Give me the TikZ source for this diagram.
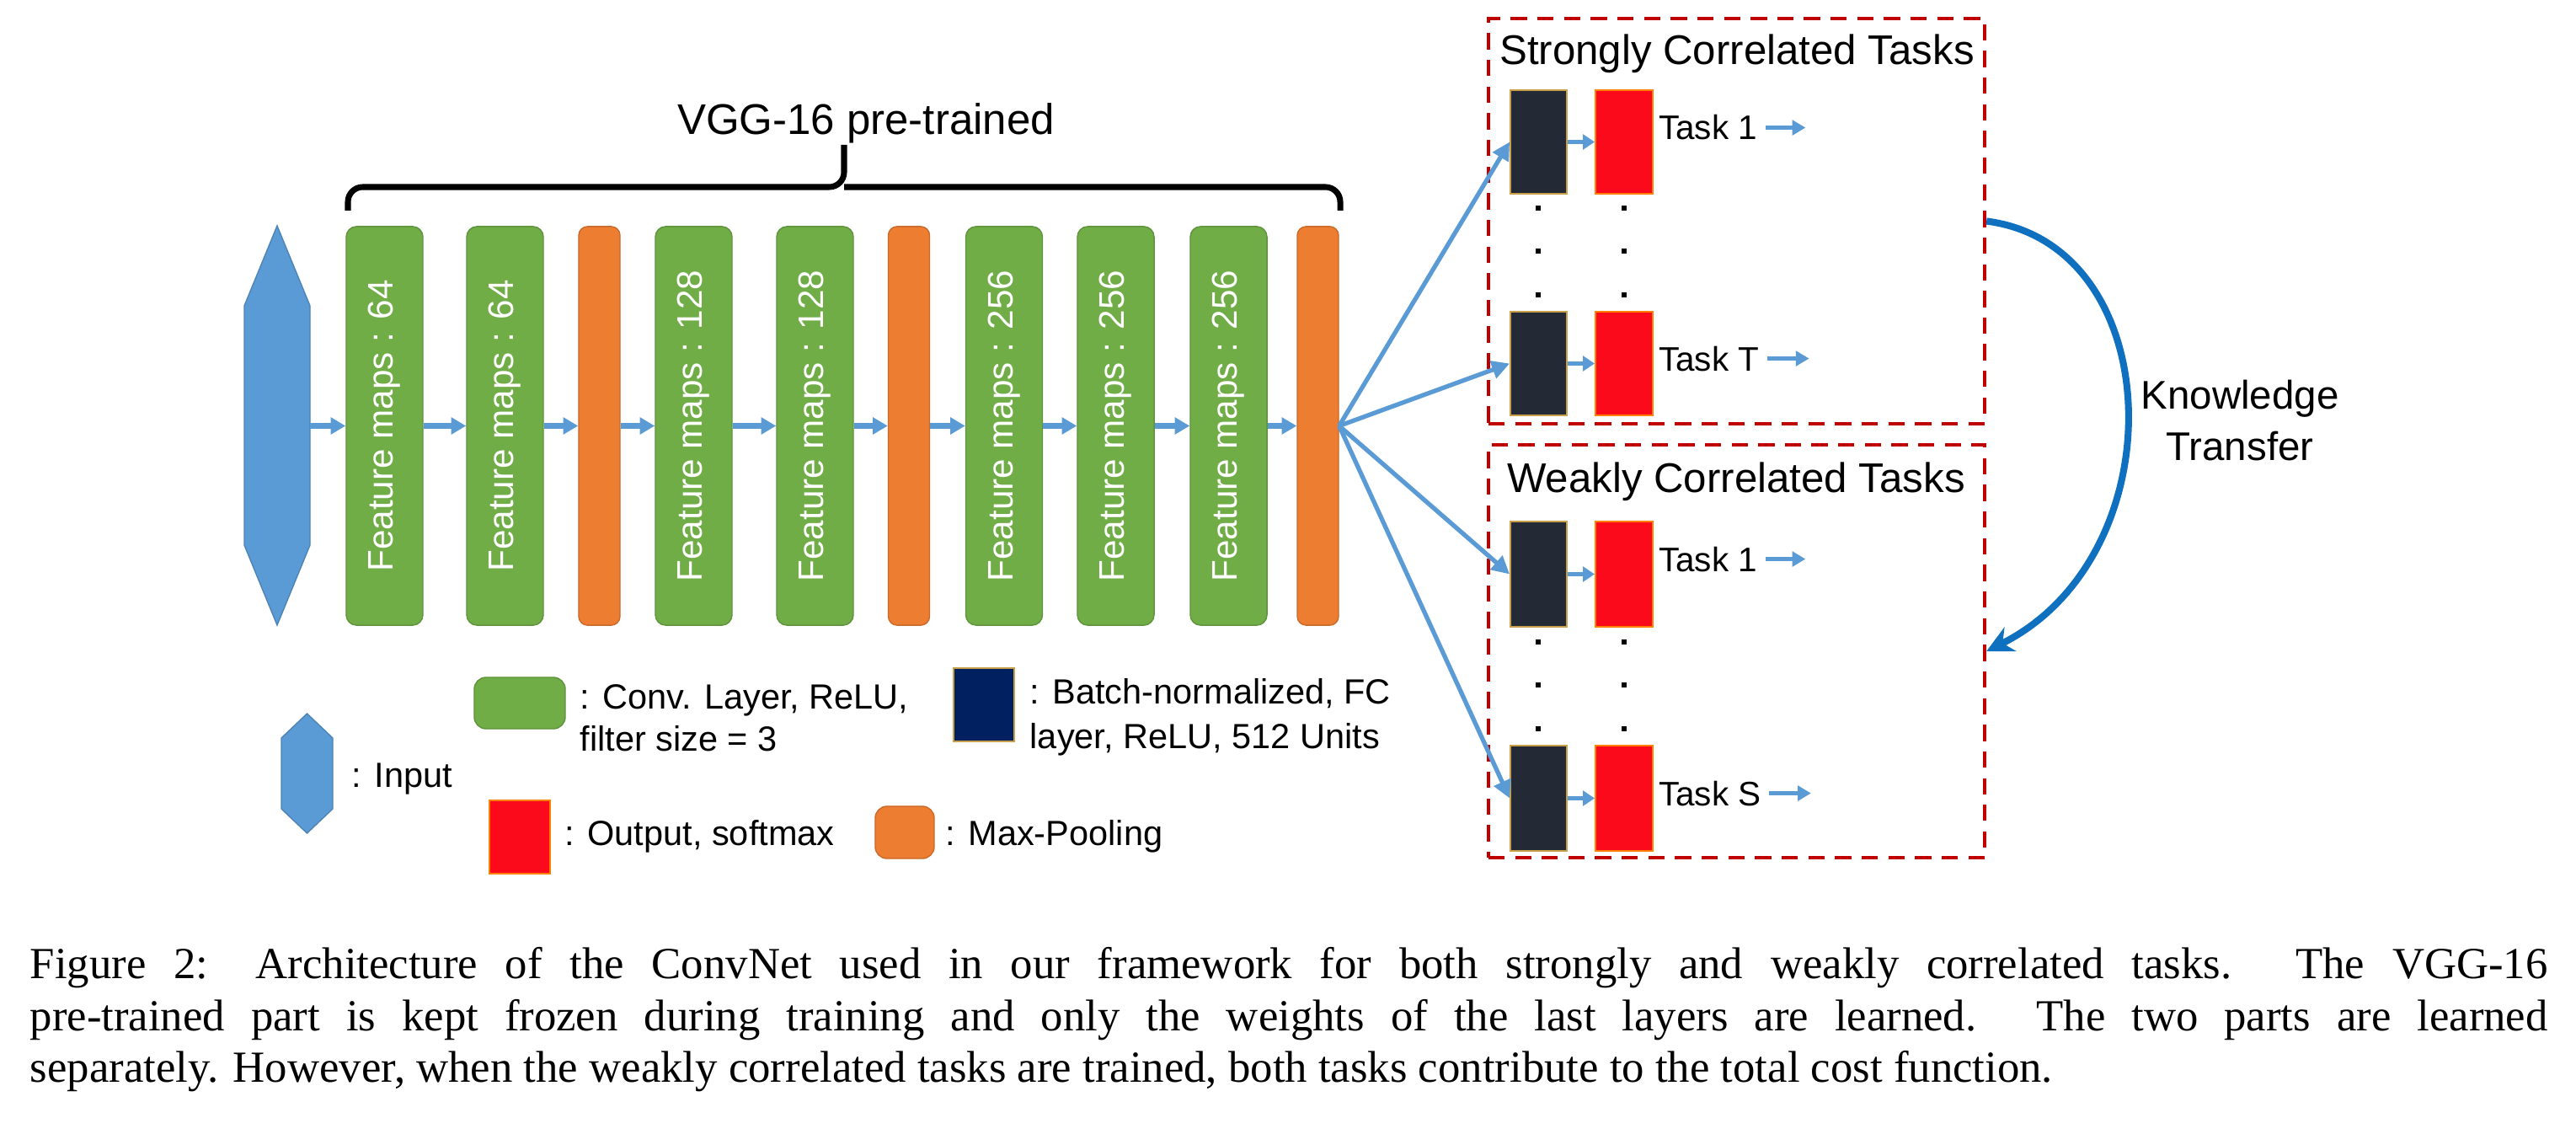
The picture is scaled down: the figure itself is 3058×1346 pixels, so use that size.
\documentclass[tikz,border=0pt]{standalone}
\usepackage{fontspec}
\setmainfont{Liberation Serif}
\setsansfont{Liberation Sans}
\usetikzlibrary{arrows.meta, positioning, calc}

\definecolor{inblue}{HTML}{5B9BD5}
\definecolor{convgreen}{HTML}{70AD47}
\definecolor{poolorange}{HTML}{ED7D31}
\definecolor{fcdark}{HTML}{232A35}
\definecolor{fcnavy}{HTML}{002060}
\definecolor{fcgold}{HTML}{C9A04A}
\definecolor{outred}{HTML}{FA0A1A}
\definecolor{boxred}{HTML}{C00000}
\definecolor{ktblue}{HTML}{1070C0}

\begin{document}
\begin{tikzpicture}[x=0.01cm, y=-0.01cm, font=\sffamily,
            conv/.style={draw=convgreen!85!black, line width=0.4pt, fill=convgreen, rounded corners=3.5pt,
                         minimum width=0.91cm, minimum height=4.73cm, inner sep=0pt, text=white,
                         font=\sffamily\fontsize{12}{14}\selectfont},
            pool/.style={draw=poolorange!85!black, line width=0.4pt, fill=poolorange, rounded corners=3pt,
                         minimum width=0.49cm, minimum height=4.73cm, inner sep=0pt},
            fc/.style={draw=fcgold, line width=0.5pt, fill=fcdark, minimum width=0.67cm, minimum height=1.23cm, inner sep=0pt},
            soft/.style={draw=orange, line width=0.5pt, fill=outred, minimum width=0.68cm, minimum height=1.23cm, inner sep=0pt},
            taskgroup/.style={draw=boxred, dash pattern=on 5.5pt off 3.5pt, line width=1.1pt, minimum width=5.89cm, inner sep=0pt},
            grouptitle/.style={font=\sffamily\fontsize{14}{16}\selectfont, anchor=base},
            task/.style={font=\sffamily\fontsize{11.5}{13}\selectfont, inner sep=1pt, anchor=base west},
            legtext/.style={font=\sffamily\fontsize{11.8}{14.2}\selectfont, align=left, inner sep=0pt},
            flow/.style={draw=inblue, line width=2pt, -{Triangle[length=5pt,width=5.5pt]}},
            fan/.style={draw=inblue, line width=1.5pt, -{Triangle[length=6pt,width=6pt]}},
            link/.style={draw=inblue, line width=1.6pt, -{Triangle[length=4pt,width=5pt]}},
            tasklink/.style={draw=inblue, line width=1.5pt, -{Triangle[length=4.5pt,width=5pt]}, shorten <=1.5pt}]

            \useasboundingbox (0,0) rectangle (3058,1346);

            % VGG-16 part
            \filldraw[fill=inblue, draw=inblue!85!black, line width=0.4pt]
                (329,268) -- (368,363) -- (368,647) -- (329,742) -- (290,647) -- (290,363) -- cycle;
            \coordinate (input) at (368,505.5);

            \node [conv] (conv1) at (456.5,505.5) {\rotatebox{90}{Feature maps : 64}};
            \node [conv] (conv2) at (599.5,505.5) {\rotatebox{90}{Feature maps : 64}};
            \node [pool] (pool1) at (711.5,505.5) {};
            \node [conv] (conv3) at (823.5,505.5) {\rotatebox{90}{Feature maps : 128}};
            \node [conv] (conv4) at (967.5,505.5) {\rotatebox{90}{Feature maps : 128}};
            \node [pool] (pool2) at (1079,505.5) {};
            \node [conv] (conv5) at (1192,505.5) {\rotatebox{90}{Feature maps : 256}};
            \node [conv] (conv6) at (1324.5,505.5) {\rotatebox{90}{Feature maps : 256}};
            \node [conv] (conv7) at (1458.5,505.5) {\rotatebox{90}{Feature maps : 256}};
            \node [pool] (pool3) at (1564.5,505.5) {};

            \draw [flow] (input) -- (conv1.west);
            \draw [flow] (conv1.east) -- (conv2.west);
            \draw [flow] (conv2.east) -- (pool1.west);
            \draw [flow] (pool1.east) -- (conv3.west);
            \draw [flow] (conv3.east) -- (conv4.west);
            \draw [flow] (conv4.east) -- (pool2.west);
            \draw [flow] (pool2.east) -- (conv5.west);
            \draw [flow] (conv5.east) -- (conv6.west);
            \draw [flow] (conv6.east) -- (conv7.west);
            \draw [flow] (conv7.east) -- (pool3.west);

            \draw [line width=2pt, rounded corners=5pt] (413,250) |- (1002,222) -- (1002,172);
            \draw [line width=2pt, rounded corners=5pt] (1002,222) -| (1591,250);
            \node [font=\sffamily\fontsize{14.5}{16}\selectfont, anchor=base] (vgg) at (1028,160) {VGG-16 pre-trained};

            % task heads
            \node [taskgroup, minimum height=4.81cm] (strong) at (2061.5,262.5) {};
            \node [taskgroup, minimum height=4.90cm] (weak) at (2061.5,773) {};
            \node [grouptitle] (strongtitle) at (2062,77) {Strongly Correlated Tasks};
            \node [grouptitle] (weaktitle) at (2061,584) {Weakly Correlated Tasks};

            \node [fc] (fc1) at (1826.5,168.5) {};
            \node [soft] (soft1) at (1928,168.5) {};
            \node [fc] (fcT) at (1826.5,431.5) {};
            \node [soft] (softT) at (1928,431.5) {};
            \node [fc, minimum height=1.25cm] (fcw1) at (1826.5,681.5) {};
            \node [soft, minimum height=1.25cm] (softw1) at (1928,681.5) {};
            \node [fc, minimum height=1.25cm] (fcS) at (1826.5,947.5) {};
            \node [soft, minimum height=1.25cm] (softS) at (1928,947.5) {};

            \draw [link] (fc1) -- (soft1);
            \draw [link] (fcT) -- (softT);
            \draw [link] (fcw1) -- (softw1);
            \draw [link] (fcS) -- (softS);

            \node [task] (lab1) at (1965,166) {Task 1};
            \node [task] (labT) at (1965,440) {Task T};
            \node [task] (labw1) at (1965,678) {Task 1};
            \node [task] (labS) at (1965,956) {Task S};
            \coordinate [right=0.53cm of lab1] (end1);
            \coordinate [right=0.55cm of labT] (endT);
            \coordinate [right=0.53cm of labw1] (endw1);
            \coordinate [right=0.55cm of labS] (endS);
            \draw [tasklink] (lab1) -- (end1);
            \draw [tasklink] (labT) -- (endT);
            \draw [tasklink] (labw1) -- (endw1);
            \draw [tasklink] (labS) -- (endS);

            \foreach \y in {247,298,350,762,813,865}{
                \fill (1823,\y-3) rectangle ++(6,6);
                \fill (1925,\y-3) rectangle ++(6,6);
            }

            \draw [fan] (pool3.east) -- (fc1.west);
            \draw [fan] (pool3.east) -- (fcT.west);
            \draw [fan] (pool3.east) -- (fcw1.west);
            \draw [fan] (pool3.east) -- (fcS.west);

            \draw [ktblue, line width=2.3pt, -{Stealth[length=9pt,width=9pt]}]
                (strong.east) .. controls (2575,290) and (2585,660) .. (weak.east);
            \node [font=\sffamily\fontsize{13.5}{17.6}\selectfont, align=center] (kt) at (2659,499) {Knowledge\\Transfer};

            % legend
            \filldraw[fill=inblue, draw=inblue!85!black, line width=0.4pt]
                (364.5,847) -- (395,876) -- (395,960) -- (364.5,989) -- (334,960) -- (334,876) -- cycle;
            \node [legtext, anchor=base west] (leginput) at (417,934) {: Input};
            \node [conv, minimum width=1.08cm, minimum height=0.61cm, rounded corners=4pt] (legconv) at (617,834.5) {};
            \node [legtext, anchor=north west] (legconvtxt) at (688,812) {: Conv. Layer, ReLU,\\filter size = 3};
            \node [fc, fill=fcnavy, minimum width=0.72cm, minimum height=0.87cm] (legfc) at (1168,836.5) {};
            \node [legtext, anchor=north west, font=\sffamily\fontsize{11.8}{15.1}\selectfont] (legfctxt) at (1222,805) {: Batch-normalized, FC\\layer, ReLU, 512 Units};
            \node [soft, minimum width=0.72cm, minimum height=0.87cm] (legsoft) at (617,993.5) {};
            \node [legtext, anchor=base west] (legsofttxt) at (670,1003) {: Output, softmax};
            \node [pool, minimum width=0.70cm, minimum height=0.62cm, rounded corners=4pt] (legpool) at (1074,988) {};
            \node [legtext, anchor=base west] (legpooltxt) at (1122,1003) {: Max-Pooling};

            % caption
            \node [anchor=north west, text width=29.87cm, align=justify, inner sep=0pt,
                   font=\rmfamily\fontsize{15}{17.5}\selectfont] (caption) at (35,1124)
                {\hyphenpenalty=10000 \exhyphenpenalty=10000
                 Figure 2: Architecture of the ConvNet used in our framework for both strongly and weakly correlated tasks. The VGG-16\linebreak
                 pre-trained part is kept frozen during training and only the weights of the last layers are learned. The two parts are learned\linebreak
                 separately. However, when the weakly correlated tasks are trained, both tasks contribute to the total cost function.};
\end{tikzpicture}
\end{document}
